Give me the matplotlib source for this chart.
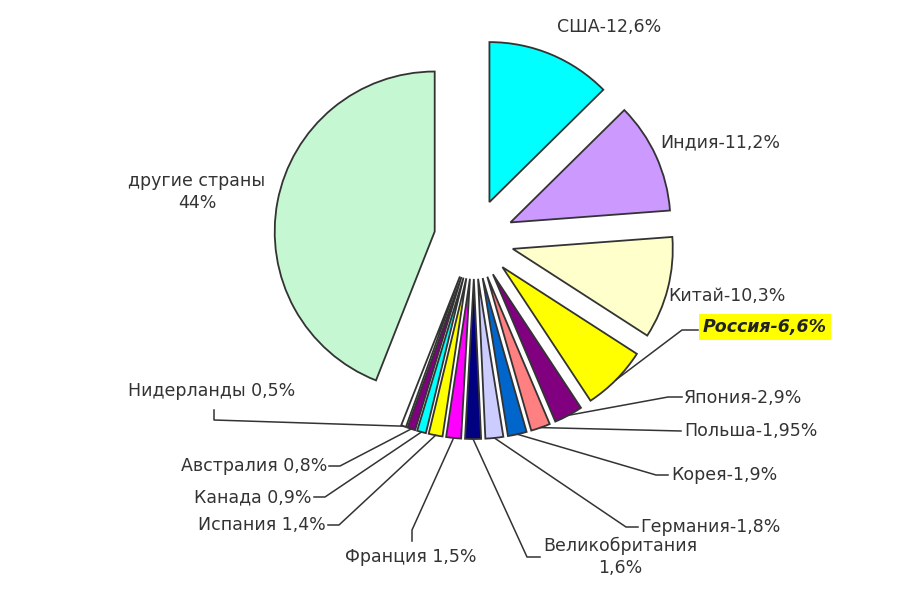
import matplotlib.pyplot as plt
import numpy as np

# shares of countries (percent), clockwise from the top
countries = ['США', 'Индия', 'Китай', 'Россия', 'Япония', 'Польша', 'Корея', 'Германия',
             'Великобритания', 'Франция', 'Испания', 'Канада', 'Австралия', 'Нидерланды',
             'другие страны']
shares = [12.6, 11.2, 10.3, 6.6, 2.9, 1.95, 1.9, 1.8, 1.6, 1.5, 1.4, 0.9, 0.8, 0.5, 44]
share_text = ['12,6%', '11,2%', '10,3%', '6,6%', '2,9%', '1,95%', '1,9%', '1,8%', '1,6%',
              '1,5%', '1,4%', '0,9%', '0,8%', '0,5%', '44%']
colors = ['#00FFFF', '#CC99FF', '#FFFFCC', '#FFFF00', '#800080', '#FF8080', '#0066CC',
          '#CCCCFF', '#000080', '#FF00FF', '#FFFF00', '#00FFFF', '#800080', '#FFFFFF',
          '#C4F7D2']

W, H = 923, 596
CX, CY, R = 474, 239, 160   # pie centre / radius in pixels

def px(x, y):
    return (x - CX) / R, (CY - y) / R

fig = plt.figure(figsize=(W / 100, H / 100), dpi=100)
ax = fig.add_axes([0, 0, 1, 1])
wedges, _ = ax.pie(shares, colors=colors, startangle=90, counterclock=False,
                   explode=[0.25] * len(shares), radius=1,
                   wedgeprops=dict(edgecolor='#333333', linewidth=1.3))
ax.set_aspect('auto')
ax.set_xlim(-CX / R, (W - CX) / R)
ax.set_ylim(-(H - CY) / R, CY / R)
ax.axis('off')

# label placement: text x, y (px), ha, elbow points of the leader line (px)
layout = [
    (609, 27, 'center', None),
    (660, 142, 'left', None),
    (668, 296, 'left', None),
    (703, 327, 'left', [(682, 330), (698, 330)]),
    (684, 398, 'left', [(668, 397), (682, 397)]),
    (684, 431, 'left', [(681, 431)]),
    (671, 475, 'left', [(656, 475), (668, 475)]),
    (640, 527, 'left', [(626, 527), (638, 527)]),
    (620, 557, 'center', [(527, 557), (540, 557)]),
    (411, 557, 'center', [(412, 530), (412, 541)]),
    (326, 525, 'right', [(339, 525), (328, 525)]),
    (312, 497, 'right', [(325, 497), (314, 497)]),
    (327, 466, 'right', [(340, 466), (329, 466)]),
    (212, 391, 'center', [(214, 420), (214, 410)]),
    (197, 192, 'center', None),
]

txt_kw = dict(fontsize=12.5, color='#333333', family='DejaVu Sans', va='center')
for i, (w, (tx, ty, ha, elbows)) in enumerate(zip(wedges, layout)):
    name = countries[i]
    if i < 8:
        label = f'{name}-{share_text[i]}'
    elif i in (8, 14):
        label = f'{name}\n{share_text[i]}'
    else:
        label = f'{name} {share_text[i]}'
    if elbows:
        ang = np.deg2rad((w.theta1 + w.theta2) / 2)
        x0 = w.center[0] + w.r * np.cos(ang)
        y0 = w.center[1] + w.r * np.sin(ang)
        pts = [(x0, y0)] + [px(*p) for p in elbows]
        ax.plot([p[0] for p in pts], [p[1] for p in pts], color='#333333', lw=1.1)
    x, y = px(tx, ty)
    if name == 'Россия':
        ax.text(x, y, label, ha=ha, fontsize=12.5, family='DejaVu Sans', va='center',
                fontweight='bold', fontstyle='italic', color='#222222',
                bbox=dict(boxstyle='square,pad=0.25', fc='#FFFF00', ec='none'))
    else:
        ax.text(x, y, label, ha=ha, multialignment='center', linespacing=1.3, **txt_kw)

fig.savefig('out.png', dpi=100)
